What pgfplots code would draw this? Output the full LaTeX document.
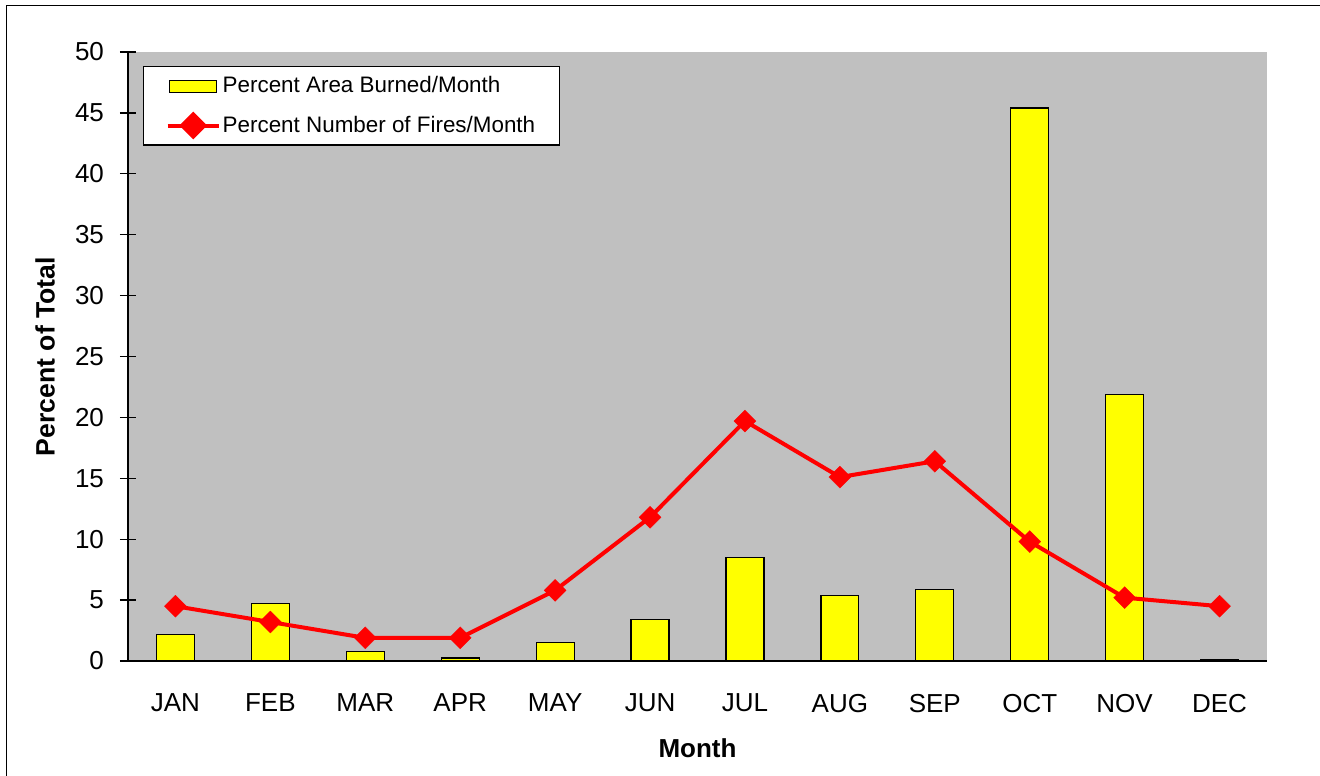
\documentclass[border=0pt]{standalone}
\usepackage{pgfplots}
\pgfplotsset{compat=1.18}
\usepackage{fontspec}
\setmainfont{Liberation Sans}
\definecolor{bggray}{HTML}{C0C0C0}
\definecolor{xlred}{HTML}{FF0000}
\definecolor{xlyellow}{HTML}{FFFF00}
\begin{document}
\begin{tikzpicture}
\useasboundingbox (0,0) rectangle (660pt,387.5pt);
\clip (0,0) rectangle (660pt,387.5pt);
\draw[line width=0.8pt] (3.2pt,-5pt) rectangle (670pt,384.7pt);
\begin{axis}[
  axis on top,
  at={(64pt,57pt)}, anchor=south west,
  scale only axis, width=569.5pt, height=304.5pt,
  xmin=0.5, xmax=12.5, ymin=0, ymax=50,
  axis x line*=bottom, axis y line*=left,
  x axis line style={-, line width=0.8pt},
  y axis line style={-, line width=0.8pt},
  axis background/.style={fill=bggray},
  xtick align=center, ytick align=center,
  ytick={0,5,...,50},
  major tick length=8pt,
  tick style={black, line width=0.7pt},
  xtick={1,...,12},
  xticklabels={JAN,FEB,MAR,APR,MAY,JUN,JUL,AUG,SEP,OCT,NOV,DEC},
  x tick style={draw=none},
  extra x ticks={0.5,1.5,...,12.5},
  extra x tick labels={},
  extra x tick style={tick style={draw=black, line width=0.7pt}, xtick align=center, major tick length=7.5pt},
  /pgf/number format/assume math mode=true,
  ticklabel style={font=\fontsize{13}{15}\selectfont},
  yticklabel style={xshift=-4.5pt},
  xticklabel style={yshift=-9pt},
  xlabel={Month}, ylabel={Percent of Total},
  every axis x label/.style={at={(rel axis cs:0.5,0)}, yshift=-43.5pt, anchor=center, font=\fontsize{13}{15}\selectfont\bfseries},
  every axis y label/.style={at={(rel axis cs:0,0.5)}, xshift=-41.5pt, rotate=90, anchor=center, font=\fontsize{13.3}{15}\selectfont\bfseries},
  legend style={at={(rel axis cs:0.0132,0.977)}, anchor=north west, draw=black, line width=0.7pt, fill=white,
    font=\fontsize{11.2}{13}\selectfont, inner xsep=11pt, inner ysep=3pt, row sep=6pt,
    nodes={inner xsep=1pt, inner ysep=2pt}},
  legend cell align=left,
]
\addplot[ybar, bar width=0.4, fill=xlyellow, draw=black, line width=0.6pt,
  legend image code/.code={\draw[fill=xlyellow, draw=black, line width=0.6pt] (8pt,-3pt) rectangle (31.5pt,3pt);}]
  coordinates {(1,2.2) (2,4.7) (3,0.8) (4,0.25) (5,1.5) (6,3.4) (7,8.5) (8,5.4) (9,5.9) (10,45.4) (11,21.9) (12,0.1)};
\addlegendentry{Percent Area Burned/Month}
\addplot[xlred, line width=2pt, mark=square*, mark size=3.9pt, mark options={rotate=45, draw=xlred, fill=xlred, line width=0.1pt},
  legend image code/.code={\draw[xlred, line width=2pt] (7pt,0) -- (32.5pt,0); \fill[xlred] (19.75pt,0) +(0,5.5pt) -- +(5.5pt,0) -- +(0,-5.5pt) -- +(-5.5pt,0) -- cycle;}]
  coordinates {(1,4.5) (2,3.2) (3,1.9) (4,1.9) (5,5.8) (6,11.8) (7,19.7) (8,15.1) (9,16.4) (10,9.8) (11,5.2) (12,4.5)};
\addlegendentry{Percent Number of Fires/Month}
\end{axis}
\end{tikzpicture}
\end{document}
